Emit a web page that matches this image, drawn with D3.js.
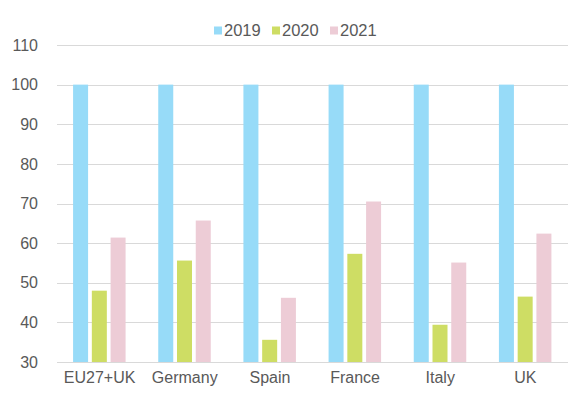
<!DOCTYPE html>
<html>
<head>
<meta charset="utf-8">
<script src="https://cdn.jsdelivr.net/npm/d3@7"></script>
<style>
  body { margin: 0; background: #fff; }
  text { font-family: "Liberation Sans", Arial, sans-serif; fill: #595959; }
</style>
</head>
<body>
<div id="chart"></div>
<script>
const categories = ["EU27+UK", "Germany", "Spain", "France", "Italy", "UK"]
const seriesNames = ["2019", "2020", "2021"]
const values2019 = [100, 100, 100, 100, 100, 100]
const values2020 = [48, 55.6, 35.6, 57.3, 39.4, 46.5]
const values2021 = [61.4, 65.7, 46.2, 70.5, 55.1, 62.4]
const yTicks = [30, 40, 50, 60, 70, 80, 90, 100, 110]
const colors = ["#97dbf8", "#cedd64", "#edccd6"]

const width = 577
const height = 398
const margin = { top: 45, bottom: 36, left: 57, right: 9 }

const svg = d3.select("#chart").append("svg").attr("width", width).attr("height", height)
const g = svg.append("g").attr("transform", `translate(${margin.left}, ${margin.top})`)
const innerW = width - margin.left - margin.right
const innerH = height - margin.top - margin.bottom

const x = d3.scaleBand().domain(categories).range([0, innerW])
const y = d3.scaleLinear().domain([30, 110]).range([innerH, 0])
// bars ~15px wide with ~4px gap inside each group
const xs = d3.scaleBand().domain(seriesNames).range([x.bandwidth() / 2 - 26.5, x.bandwidth() / 2 + 26]).paddingInner(0.2)

// gridlines
g.selectAll("line.grid").data(yTicks).enter().append("line")
  .attr("x1", 0).attr("x2", innerW)
  .attr("y1", d => Math.round(y(d)) + 0.5).attr("y2", d => Math.round(y(d)) + 0.5)
  .attr("stroke", "#d9d9d9").attr("stroke-width", 1)

// y axis labels
const yAxis = d3.axisLeft(y).tickValues(yTicks).tickSize(0).tickPadding(19)
g.append("g").call(yAxis)
  .call(a => a.select(".domain").remove())
  .selectAll("text").style("font-size", "16px").style("font-family", null).attr("fill", "#595959")

// x axis labels
const xAxis = d3.axisBottom(x).tickSize(0).tickPadding(10)
g.append("g").attr("transform", `translate(0, ${innerH})`).call(xAxis)
  .call(a => a.select(".domain").remove())
  .selectAll("text").style("font-size", "16px").attr("fill", "#595959")

const series = [values2019, values2020, values2021]
const rows = categories.map((c, i) => ({ cat: c, vals: series.map((s, k) => ({ name: seriesNames[k], v: s[i], k: k })) }))

const groups = g.selectAll("g.cat").data(rows).enter().append("g")
  .attr("transform", d => `translate(${x(d.cat)}, 0)`)
groups.selectAll("rect").data(d => d.vals).enter().append("rect")
  .attr("x", d => xs(d.name))
  .attr("width", xs.bandwidth())
  .attr("y", d => y(d.v))
  .attr("height", d => innerH - y(d.v))
  .attr("fill", d => colors[d.k])

// legend
const legendX = [214, 272, 330]
const legend = svg.append("g")
seriesNames.forEach((n, i) => {
  legend.append("rect").attr("x", legendX[i]).attr("y", 26.5).attr("width", 8).attr("height", 8).attr("fill", colors[i])
  legend.append("text").attr("x", legendX[i] + 10).attr("y", 36).style("font-size", "16.5px").text(n)
})
</script>
</body>
</html>
